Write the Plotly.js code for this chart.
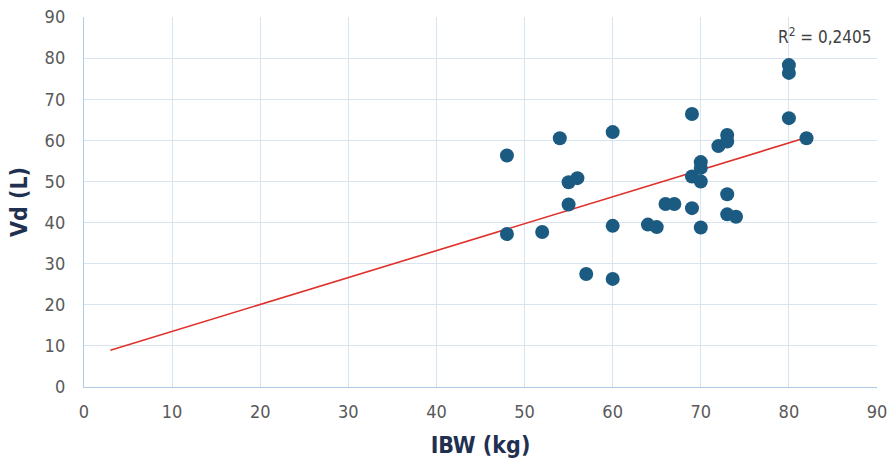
<!DOCTYPE html>
<html>
<head>
<meta charset="utf-8">
<script src="https://cdn.plot.ly/plotly-3.0.1.min.js"></script>
<style>html,body{margin:0;padding:0;background:#fff;}#chart{width:890px;height:468px;}</style>
</head>
<body>
<div id="chart"></div>
<script>
// IBW (kg)
const ibw = [48, 48, 52, 54, 55, 55, 56, 57, 60, 60, 60, 64, 65, 66, 67, 69, 69, 69, 70, 70, 70, 70, 72, 73, 73, 73, 73, 74, 80, 80, 80, 82];
// Vd (L)
const vd  = [56.3, 37.2, 37.7, 60.5, 49.8, 44.4, 50.8, 27.5, 62.0, 39.2, 26.3, 39.5, 38.9, 44.5, 44.5, 66.4, 51.2, 43.5, 54.7, 53.3, 50.0, 38.8, 58.6, 61.3, 59.7, 46.9, 42.0, 41.4, 78.3, 76.4, 65.4, 60.5];
const trendStart = 3;
const r2Label = "R<sup>2</sup> = 0,2405";
const xTicks = [0, 10, 20, 30, 40, 50, 60, 70, 80, 90];
const yTicks = [0, 10, 20, 30, 40, 50, 60, 70, 80, 90];

// least-squares linear trendline
const n = ibw.length;
const mx = ibw.reduce((a, b) => a + b, 0) / n;
const my = vd.reduce((a, b) => a + b, 0) / n;
let sxy = 0, sxx = 0;
for (let i = 0; i < n; i++) { sxy += (ibw[i] - mx) * (vd[i] - my); sxx += (ibw[i] - mx) ** 2; }
const slope = sxy / sxx;
const intercept = my - slope * mx;
const trendEnd = Math.max(...ibw);
const tx = [trendStart, trendEnd];
const ty = tx.map(x => intercept + slope * x);

const fam = "DejaVu Sans Condensed, sans-serif";
const tickFont = {family: fam, size: 18, color: "#595959"};
const titleFont = {family: fam, size: 23, color: "#1f3050", weight: 700};

const traces = [
  {x: tx, y: ty, mode: "lines", type: "scatter", line: {color: "#e0302b", width: 1.6}, hoverinfo: "skip"},
  {x: ibw, y: vd, mode: "markers", type: "scatter", marker: {color: "#1b5b82", size: 14, line: {width: 0}}}
];

const layout = {
  width: 890, height: 468,
  margin: {l: 84, r: 13, t: 17, b: 81},
  paper_bgcolor: "#ffffff", plot_bgcolor: "#ffffff",
  showlegend: false,
  xaxis: {
    range: [0, 90], tickvals: xTicks, ticktext: xTicks.map(String),
    showgrid: true, gridcolor: "#d8e4f0", gridwidth: 1.2,
    zeroline: false, showline: true, linecolor: "#aecbe6", linewidth: 1.2,
    ticks: "", tickfont: tickFont, ticklabelstandoff: 8,
    title: {text: "<b>IBW (kg)</b>", font: titleFont, standoff: 16}
  },
  yaxis: {
    range: [0, 90], tickvals: yTicks, ticktext: yTicks.map(String),
    showgrid: true, gridcolor: "#d8e4f0", gridwidth: 1.2,
    zeroline: false, showline: true, linecolor: "#aecbe6", linewidth: 1.2,
    ticks: "", tickfont: tickFont, ticklabelstandoff: 14,
    title: {text: "<b>Vd (L)</b>", font: titleFont, standoff: 10}
  },
  annotations: [{
    xref: "paper", yref: "paper", x: 0.995, y: 0.95, xanchor: "right", yanchor: "middle",
    text: r2Label, showarrow: false,
    font: {family: fam, size: 17, color: "#404040"}
  }]
};

Plotly.newPlot("chart", traces, layout, {staticPlot: true, displayModeBar: false});
</script>
</body>
</html>
